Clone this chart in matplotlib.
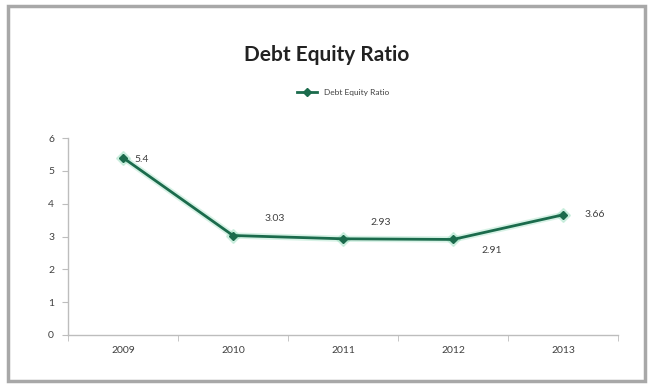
import matplotlib.pyplot as plt
from matplotlib.patches import Rectangle

plt.rcParams['font.family'] = ['Lato', 'DejaVu Sans']

# data
years = ['2009', '2010', '2011', '2012', '2013']
ratio = [5.4, 3.03, 2.93, 2.91, 3.66]
# label offsets (points) for each value label
label_offsets = [(8, -1), (30, 12), (27, 12), (28, -8), (23, 0)]

line_color = '#1b6b4c'
glow_color = '#8fdcb8'
axis_color = '#bdbdbd'

fig = plt.figure(figsize=(6.54, 3.87), dpi=100)
fig.patch.set_facecolor('white')

# grey outer frame
fig.patches.append(Rectangle((8 / 654, 6 / 387), 637 / 654, 375 / 387, transform=fig.transFigure,
                             fill=False, edgecolor='#a8a8a8', linewidth=2.5))

ax = fig.add_axes([68 / 654, 52 / 387, 550 / 654, 197 / 387])
x = list(range(len(years)))

# soft glow under the line
ax.plot(x, ratio, '-D', color=glow_color, linewidth=4.5, markersize=7, alpha=0.35, zorder=2)
ax.plot(x, ratio, '-D', color=line_color, linewidth=2, markersize=4.5,
        label='Debt Equity Ratio', zorder=3)

for xi, v, off in zip(x, ratio, label_offsets):
    ax.annotate(f'{v:g}', (xi, v), xytext=off, textcoords='offset points',
                fontsize=7.5, color='#404040', ha='left' if off[0] < 10 else 'center', va='center')

ax.set_xlim(-0.5, len(years) - 0.5)
ax.set_ylim(0, 6)
ax.set_yticks(range(0, 7))
ax.set_xticks(x)
ax.set_xticklabels(years)
ax.set_xticks([i + 0.5 for i in range(-1, len(years))], minor=True)

for s in ['top', 'right']:
    ax.spines[s].set_visible(False)
for s in ['left', 'bottom']:
    ax.spines[s].set_color(axis_color)
    ax.spines[s].set_linewidth(1)
ax.tick_params(axis='x', which='major', length=0, labelsize=7.5, labelcolor='#404040', pad=8)
ax.tick_params(axis='x', which='minor', length=4, color=axis_color)
ax.tick_params(axis='y', length=4, color=axis_color, labelsize=7.5, labelcolor='#404040', pad=6)

fig.text(0.5, 1 - 55 / 387, 'Debt Equity Ratio', ha='center', va='center',
         fontsize=15, fontweight='bold', color='#222222')
ax.legend(loc='center', bbox_to_anchor=(0.5, 1 + (387 - 92 - 249) / 197), frameon=False,
          fontsize=6, handlelength=2.5, labelcolor='#404040')

fig.savefig('out.png', dpi=100, facecolor='white')
